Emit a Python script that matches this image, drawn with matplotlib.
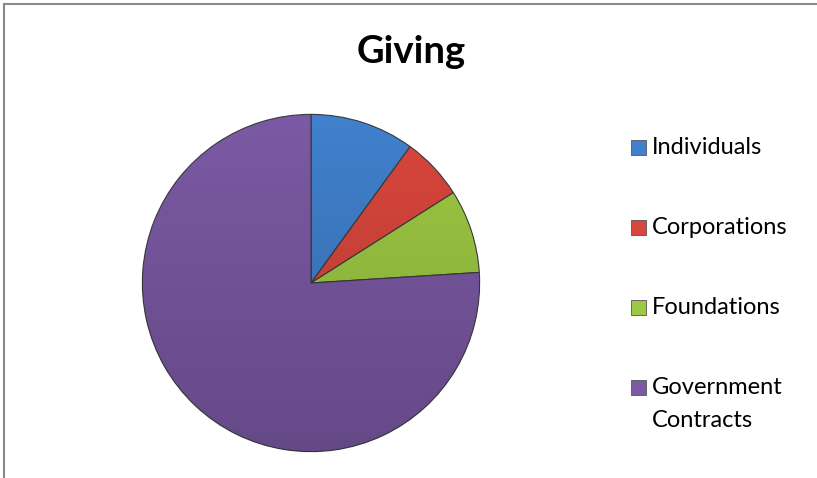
import numpy as np
import matplotlib
matplotlib.use('Agg')
import matplotlib.pyplot as plt
from matplotlib.patches import Rectangle, Circle

# data
labels = ['Individuals', 'Corporations', 'Foundations', 'Government\nContracts']
values = [10, 6, 8, 76]
colors = ['#4080CC', '#D8463C', '#9DC843', '#7B59A4']

plt.rcParams['font.family'] = ['Lato', 'DejaVu Sans']

W, H = 817.0, 478.0
fig = plt.figure(figsize=(8.17, 4.78), dpi=100)

# pie axes: centre ~ (311, 283) px, radius ~168 px
ax = fig.add_axes([(311 - 172) / W, (195 - 172) / H, 344 / W, 344 / H])
wedges, _ = ax.pie(values, colors=colors, startangle=90, counterclock=False,
                   radius=1.0,
                   wedgeprops=dict(edgecolor='#3a3a3a', linewidth=0.8))
ax.set_xlim(-1.02, 1.02)
ax.set_ylim(-1.02, 1.02)
ax.set_aspect('equal')
ax.axis('off')

# light-to-dark shading over the pie
grad = np.linspace(0.0, 1.0, 256)
img = np.zeros((256, 1, 4))
img[:, 0, 3] = 0.18 * grad
im = ax.imshow(img, extent=(-1, 1, -1, 1), origin='upper', aspect='auto', zorder=3)
im.set_clip_path(Circle((0, 0), 1.0, transform=ax.transData))

# title
fig.text(411 / W, 1 - 63 / H, 'Giving', ha='center', va='baseline',
         fontsize=27.5, fontweight='bold', color='black')

# legend drawn by hand so the marker sits beside the first line
for i, (lab, col) in enumerate(zip(labels, colors)):
    yc = 147 + 80 * i
    fig.add_artist(Rectangle((631 / W, 1 - (yc + 7.5) / H), 15 / W, 15 / H,
                             transform=fig.transFigure, facecolor=col,
                             edgecolor='#555555', linewidth=0.6))
    fig.text(652 / W, 1 - (yc - 10) / H, lab, ha='left', va='top',
             fontsize=17, color='black', linespacing=1.7)

# outer frame (top and left visible)
fig.add_artist(plt.Line2D([4 / W, 816 / W], [1 - 4 / H, 1 - 4 / H],
                          transform=fig.transFigure, color='#8a8a8a', linewidth=1.5))
fig.add_artist(plt.Line2D([4 / W, 4 / W], [1 - 4 / H, 0],
                          transform=fig.transFigure, color='#8a8a8a', linewidth=1.5))

fig.savefig('out.png', dpi=100)
